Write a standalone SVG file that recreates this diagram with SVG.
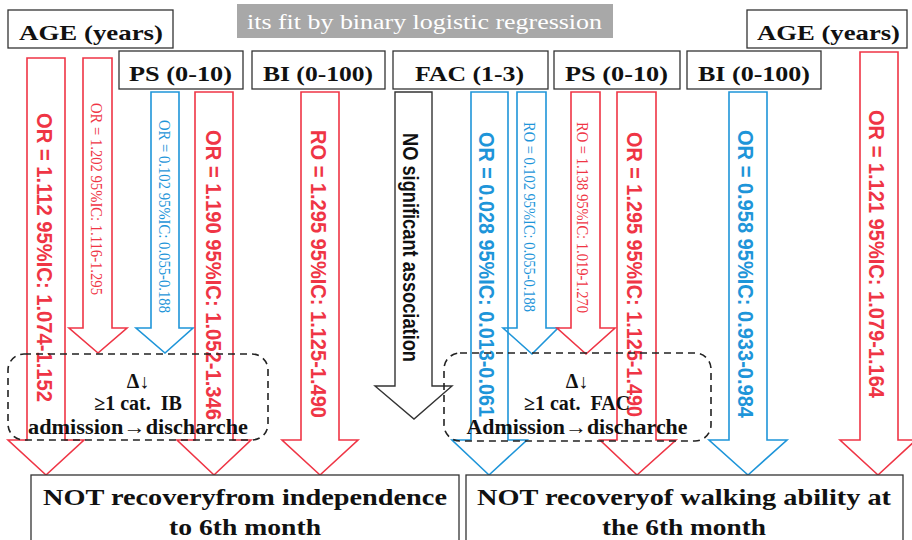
<svg xmlns="http://www.w3.org/2000/svg" width="912" height="540" viewBox="0 0 912 540">
<style>
.bg{fill:#fff}
.box{fill:#fff;stroke:#333;stroke-width:1.3}
.hdr{font-family:"Liberation Serif",serif;font-weight:bold;font-size:22px;fill:#111}
.ban{fill:#a8a8a8}
.bant{font-family:"Liberation Serif",serif;font-size:21px;fill:#fff}
.red{fill:none;stroke:#ef3545;stroke-width:1.6}
.blue{fill:none;stroke:#1e95d9;stroke-width:1.6}
.blk{fill:none;stroke:#333;stroke-width:1.4}
.big{font-family:"Liberation Sans",Arial,sans-serif;font-weight:bold;font-size:22px;dominant-baseline:central}
.sm{font-family:"Liberation Serif",serif;font-size:17px;dominant-baseline:central}
.rt{fill:#ef3545}
.bt{fill:#1e95d9}
.dash{fill:none;stroke:#222;stroke-width:1.6;stroke-dasharray:7 5}
.in{font-family:"Liberation Serif",serif;font-weight:bold;font-size:20px;fill:#111;text-anchor:middle}
.out{font-family:"Liberation Serif",serif;font-weight:bold;font-size:23px;fill:#111;text-anchor:middle}
</style>
<rect class="bg" width="912" height="540"/>
<g id="banner"><rect class="ban" x="237" y="4" width="376" height="34"/><text class="bant" x="247" y="29" textLength="355" lengthAdjust="spacingAndGlyphs">its fit by binary logistic regression</text></g>
<g id="hdr-age-l"><rect class="box" x="8" y="10" width="165" height="38"/><text class="hdr" x="19" y="40" textLength="144" lengthAdjust="spacingAndGlyphs">AGE (years)</text></g>
<g id="hdr-ps-l"><rect class="box" x="119" y="51" width="124" height="38"/><text class="hdr" x="129" y="81" textLength="103" lengthAdjust="spacingAndGlyphs">PS (0-10)</text></g>
<g id="hdr-bi-l"><rect class="box" x="252" y="51" width="133" height="38"/><text class="hdr" x="263" y="81" textLength="110" lengthAdjust="spacingAndGlyphs">BI (0-100)</text></g>
<g id="hdr-fac"><rect class="box" x="393" y="51" width="155" height="38"/><text class="hdr" x="415" y="81" textLength="109" lengthAdjust="spacingAndGlyphs">FAC (1-3)</text></g>
<g id="hdr-ps-r"><rect class="box" x="554" y="51" width="126" height="38"/><text class="hdr" x="565" y="81" textLength="103" lengthAdjust="spacingAndGlyphs">PS (0-10)</text></g>
<g id="hdr-bi-r"><rect class="box" x="687" y="51" width="134" height="38"/><text class="hdr" x="698" y="81" textLength="112" lengthAdjust="spacingAndGlyphs">BI (0-100)</text></g>
<g id="hdr-age-r"><rect class="box" x="747" y="10" width="160" height="38"/><text class="hdr" x="757" y="40" textLength="143" lengthAdjust="spacingAndGlyphs">AGE (years)</text></g>

<g id="connectors">
<path class="red" d="M27 58H65V440H84L46 475L8 440H27Z"/>
<path class="red" d="M83 58H112V328H127L98 353L69 328H83Z"/>
<path class="blue" d="M151 92H179V328H193L165 353L136 328H151Z"/>
<path class="red" d="M195 92H233V440H251L214 475L177 440H195Z"/>
<path class="red" d="M301 92H339V440H358L320 475L282 440H301Z"/>
<path class="blk" d="M395 92H432V386H452L414 419L375 386H395Z"/>
<path class="blue" d="M471 92H508V440H527L489 475L452 440H471Z"/>
<path class="blue" d="M517 92H546V328H558L532 354L503 328H517Z"/>
<path class="red" d="M571 92H600V328H615L586 354L557 328H571Z"/>
<path class="red" d="M617 92H656V440H676L637 475L600 440H617Z"/>
<path class="blue" d="M729 92H767V440H787L748 475L709 440H729Z"/>
<path class="red" d="M860 52H898V440H916L878 475L840 440H860Z"/>
</g>

<g id="labels">
<text class="big rt" transform="translate(44 113) rotate(90)" textLength="289" lengthAdjust="spacingAndGlyphs">OR = 1.112 95%IC: 1.074-1.152</text>
<text class="sm rt" transform="translate(96 103) rotate(90)" textLength="192" lengthAdjust="spacingAndGlyphs">OR = 1.202 95%IC: 1.116-1.295</text>
<text class="sm bt" transform="translate(164 120) rotate(90)" textLength="193" lengthAdjust="spacingAndGlyphs">OR = 0.102 95%IC: 0.055-0.188</text>
<text class="big rt" transform="translate(213 130) rotate(90)" textLength="290" lengthAdjust="spacingAndGlyphs">OR = 1.190 95%IC: 1.052-1.346</text>
<text class="big rt" transform="translate(318 130) rotate(90)" textLength="288" lengthAdjust="spacingAndGlyphs">RO = 1.295 95%IC: 1.125-1.490</text>
<text class="big" fill="#111" font-size="20" transform="translate(410 133) rotate(90)" textLength="229" lengthAdjust="spacingAndGlyphs">NO significant association</text>
<text class="big bt" transform="translate(486 132) rotate(90)" textLength="285" lengthAdjust="spacingAndGlyphs">OR = 0.028 95%IC: 0.013-0.061</text>
<text class="sm bt" transform="translate(529 122) rotate(90)" textLength="190" lengthAdjust="spacingAndGlyphs">RO = 0.102 95%IC: 0.055-0.188</text>
<text class="sm rt" transform="translate(582 122) rotate(90)" textLength="191" lengthAdjust="spacingAndGlyphs">RO = 1.138 95%IC: 1.019-1.270</text>
<text class="big rt" transform="translate(634 132) rotate(90)" textLength="285" lengthAdjust="spacingAndGlyphs">OR = 1.295 95%IC: 1.125-1.490</text>
<text class="big bt" transform="translate(745 130) rotate(90)" textLength="288" lengthAdjust="spacingAndGlyphs">OR = 0.958 95%IC: 0.933-0.984</text>
<text class="big rt" transform="translate(876 110) rotate(90)" textLength="288" lengthAdjust="spacingAndGlyphs">OR = 1.121 95%IC: 1.079-1.164</text>
</g>

<g id="delta-ib">
<rect class="dash" x="8" y="354" width="260" height="86" rx="16"/>
<text class="in" x="138" y="388">Δ↓</text>
<text class="in" x="138" y="410">≥1 cat.&#160; IB</text>
<text class="in" x="138" y="434" textLength="220" lengthAdjust="spacingAndGlyphs">admission→discharche</text>
</g>
<g id="delta-fac">
<rect class="dash" x="444" y="353" width="267" height="88" rx="16"/>
<text class="in" x="577" y="388">Δ↓</text>
<text class="in" x="577" y="410">≥1 cat.&#160; FAC</text>
<text class="in" x="577" y="434" textLength="221" lengthAdjust="spacingAndGlyphs">Admission→discharche</text>
</g>

<g id="out-independence">
<rect class="box" x="31" y="475" width="428" height="75"/>
<text class="out" x="245" y="505" textLength="404" lengthAdjust="spacingAndGlyphs">NOT recoveryfrom independence</text>
<text class="out" x="245" y="535" textLength="152" lengthAdjust="spacingAndGlyphs">to 6th month</text>
</g>
<g id="out-walking">
<rect class="box" x="466" y="475" width="437" height="75"/>
<text class="out" x="684" y="505" textLength="414" lengthAdjust="spacingAndGlyphs">NOT recoveryof walking ability at</text>
<text class="out" x="684" y="535" textLength="164" lengthAdjust="spacingAndGlyphs">the 6th month</text>
</g>
</svg>
